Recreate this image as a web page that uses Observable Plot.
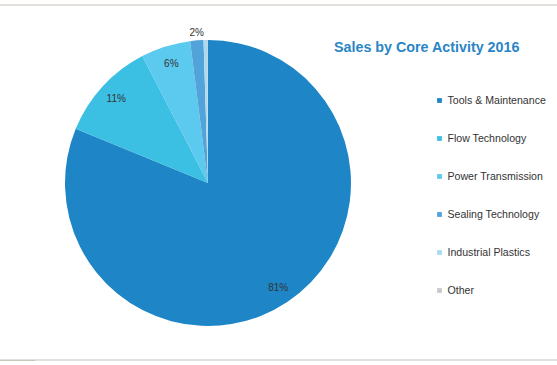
<!DOCTYPE html>
<html>
<head>
<meta charset="utf-8">
<script src="https://cdn.jsdelivr.net/npm/d3@7"></script>
<script src="https://cdn.jsdelivr.net/npm/@observablehq/plot@0.6"></script>
<style>
  html, body { margin: 0; padding: 0; background: #fff; }
  body { font-family: "Liberation Sans", Arial, sans-serif; }
  #wrap { position: relative; width: 557px; height: 365px; overflow: hidden; background: #fff; }
  #wrap svg { position: absolute; left: 0; top: 0; background: transparent; }
  .topline { position: absolute; left: 0; top: 4px; width: 557px; height: 2px; background: #e3e0db; }
  .botline { position: absolute; left: 0; top: 359px; width: 557px; height: 2px; background: #e3e1dc; }
  .botdark { position: absolute; left: 0; top: 360px; width: 35px; height: 1px; background: #c9c5bd; }
  #title { position: absolute; left: 334px; top: 39px; font-weight: bold; font-size: 14.3px; color: #2a85c6; white-space: nowrap; z-index: 3; }
</style>
</head>
<body>
<div id="wrap">
  <div class="topline"></div>
  <div class="botline"></div>
  <div class="botdark"></div>
  <div id="title">Sales by Core Activity 2016</div>
</div>
<script>
// ---- data ----
const categories = ["Tools & Maintenance", "Flow Technology", "Power Transmission", "Sealing Technology", "Industrial Plastics", "Other"];
const shares = [81.2, 11.2, 5.6, 1.5, 0.4, 0.1];
const sliceLabels = ["81%", "11%", "6%", "2%", "", ""];
const colors = ["#1e86c6", "#3bbfe3", "#5cc9ef", "#52a3da", "#a6dcf3", "#cacaca"];

const data = categories.map((c, i) => ({category: c, value: shares[i], label: sliceLabels[i]}));
const arcs = d3.pie().value(d => d.value).sort(null)(data);
const labelData = data.map((d, i) => {
  const a = (arcs[i].startAngle + arcs[i].endAngle) / 2;
  const r = d.value < 3 ? 1.06 : 0.875;
  return {...d, lx: Math.sin(a) * r, ly: Math.cos(a) * r};
}).filter(d => d.label);

const font = "Liberation Sans, Arial, sans-serif";

const pie = Plot.plot({
  width: 557, height: 365, margin: 0,
  style: {fontFamily: font, background: "transparent"},
  x: {domain: [-1, 1], range: [65, 351], axis: null},
  y: {domain: [-1, 1], range: [326, 40], axis: null},
  color: {domain: categories, range: colors},
  marks: [
    Plot.dot(data, {
      x: () => 0, y: () => 0, fill: "category",
      render: (index, scales, values) => {
        const g = d3.create("svg:g");
        const cx = scales.x(0), cy = scales.y(0), R = scales.x(1) - scales.x(0);
        const arc = d3.arc().innerRadius(0).outerRadius(R);
        for (const i of index) {
          g.append("path")
            .attr("transform", `translate(${cx},${cy})`)
            .attr("d", arc(arcs[i]))
            .attr("fill", values.fill[i]);
        }
        return g.node();
      }
    }),
    Plot.text(labelData, {x: "lx", y: "ly", text: "label", fontSize: 10, fill: "#333"})
  ]
});

const legend = Plot.plot({
  width: 557, height: 365, margin: 0,
  style: {fontFamily: font, background: "transparent"},
  x: {domain: [0, 1], range: [439, 447], axis: null},
  y: {type: "point", domain: categories, range: [99, 290], padding: 0, axis: null},
  color: {domain: categories, range: colors},
  marks: [
    Plot.dot(categories, {x: () => 0, y: d => d, fill: d => d, symbol: "square", r: 2.7}),
    Plot.text(categories, {x: () => 1, y: d => d, text: d => d, textAnchor: "start", fontSize: 10.6, fill: "#333"})
  ]
});

const wrap = document.getElementById("wrap");
wrap.appendChild(pie);
wrap.appendChild(legend);
</script>
</body>
</html>
